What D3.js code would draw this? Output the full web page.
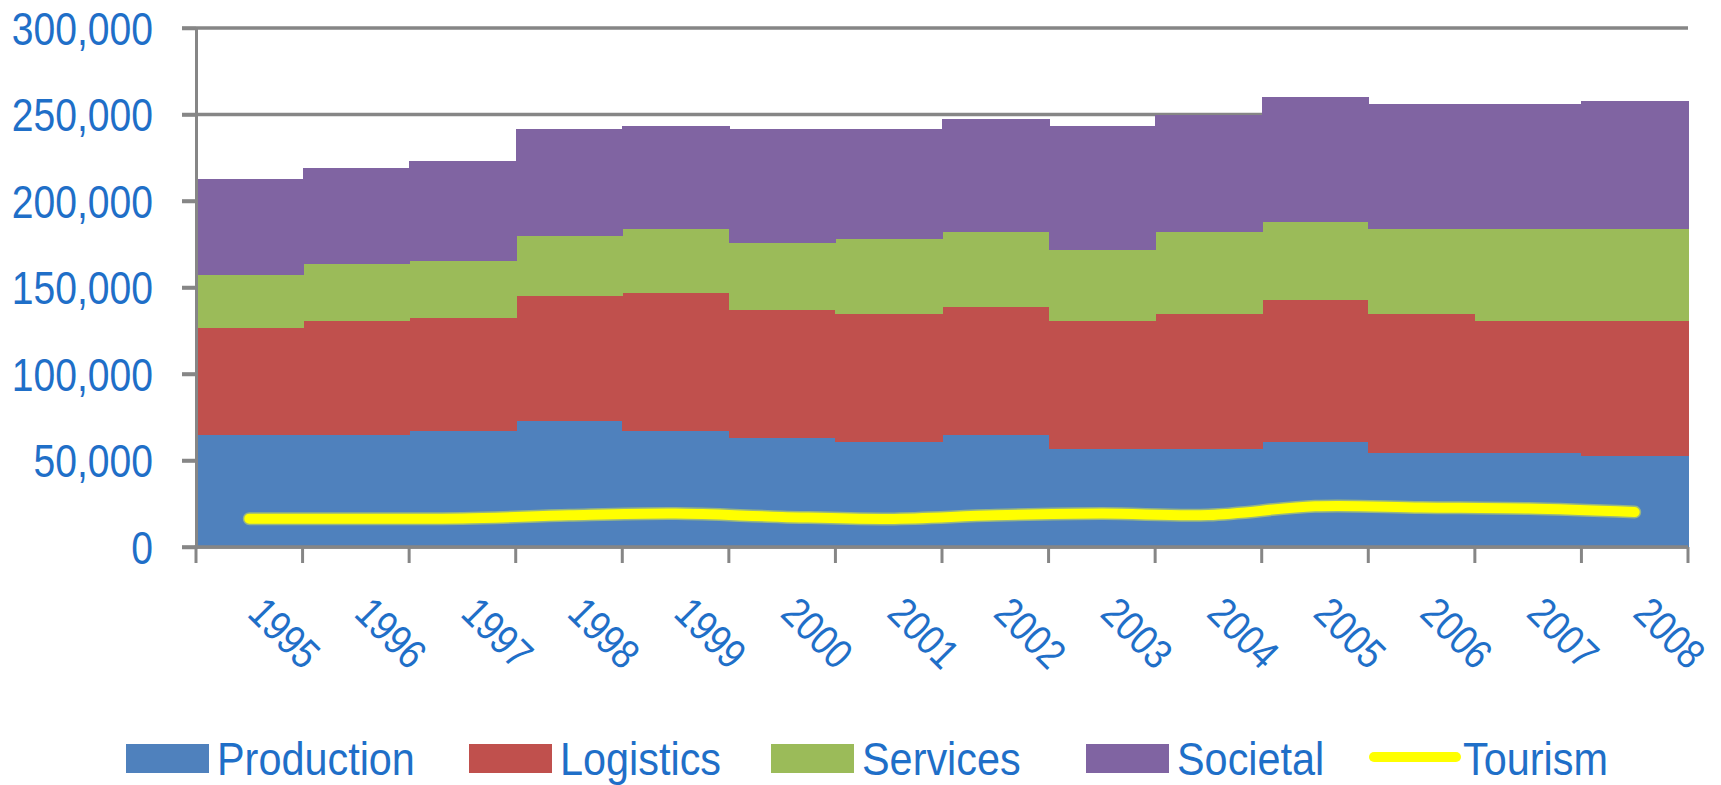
<!DOCTYPE html>
<html>
<head>
<meta charset="utf-8">
<script src="https://cdn.jsdelivr.net/npm/d3@7"></script>
<style>
  html, body { margin: 0; padding: 0; background: #fff; }
  svg { display: block; }
</style>
</head>
<body>
<div id="chart"></div>
<script>
// Data
const years = ['1995', '1996', '1997', '1998', '1999', '2000', '2001', '2002', '2003', '2004', '2005', '2006', '2007', '2008'];
const production = [64600, 64600, 66900, 72700, 66900, 63000, 60700, 64600, 56500, 56500, 60500, 54200, 54200, 52600];
const logistics  = [61900, 65900, 65400, 72300, 79800, 73900, 73900, 74000, 74000, 78100, 82200, 80400, 76300, 77900];
const services   = [30600, 33000, 32900, 34700, 37000, 38700, 43400, 43400, 41100, 47400, 45100, 49100, 53200, 53200];
const societal   = [55600, 55500, 57900, 61900, 59600, 66000, 63600, 65400, 71700, 67700, 72300, 72300, 72300, 74000];
const tourism    = [16400, 16400, 16500, 18300, 19300, 17400, 16200, 18300, 19300, 18500, 23500, 22800, 22200, 20200];
const yTicks = [0, 50000, 100000, 150000, 200000, 250000, 300000];

const seriesNames = ['Production', 'Logistics', 'Services', 'Societal'];
const colors = {
    Production: '#4F81BD',
    Logistics: '#C0504D',
    Services: '#9BBB59',
    Societal: '#8064A2',
    Tourism: '#FFFF00'
};
const textColor = '#1f6fc8';
const axisColor = '#868686';
const font = '"Liberation Sans", Arial, sans-serif';

const W = 1721, H = 785;
const plot = { left: 196, right: 1688, top: 28, bottom: 547 };

const svg = d3.select('#chart')
    .append('svg')
    .attr('width', W)
    .attr('height', H);

// build table for stacking
const table = years.map((y, i) => ({
    year: y,
    Production: production[i],
    Logistics: logistics[i],
    Services: services[i],
    Societal: societal[i]
}));

const x = d3.scaleBand()
    .domain(years)
    .range([plot.left, plot.right])
    .padding(0);

const y = d3.scaleLinear()
    .domain([0, 300000])
    .range([plot.bottom, plot.top]);

const stacked = d3.stack().keys(seriesNames)(table);

// gridlines (behind the areas)
svg.append('g')
    .selectAll('line')
    .data(yTicks)
    .join('line')
    .attr('x1', plot.left - 14)
    .attr('x2', plot.right)
    .attr('y1', d => y(d))
    .attr('y2', d => y(d))
    .attr('stroke', axisColor)
    .attr('stroke-width', 3.5);

// stacked columns with no gap
svg.append('g')
    .attr('shape-rendering', 'crispEdges')
    .selectAll('g')
    .data(stacked)
    .join('g')
    .attr('fill', d => colors[d.key])
    .selectAll('rect')
    .data(d => d)
    .join('rect')
    .attr('x', d => Math.round(x(d.data.year)))
    .attr('width', d => Math.round(x(d.data.year) + x.bandwidth()) - Math.round(x(d.data.year)) + 1)
    .attr('y', d => y(d[1]))
    .attr('height', d => y(d[0]) - y(d[1]));

// tourism line, smoothed
const line = d3.line()
    .x((d, i) => x(years[i]) + x.bandwidth() / 2)
    .y(d => y(d))
    .curve(d3.curveCatmullRom.alpha(0.5));

svg.append('path')
    .datum(tourism)
    .attr('d', line)
    .attr('fill', 'none')
    .attr('stroke', '#c8d85a')
    .attr('stroke-opacity', 0.6)
    .attr('stroke-width', 13)
    .attr('stroke-linecap', 'round');

svg.append('path')
    .datum(tourism)
    .attr('d', line)
    .attr('fill', 'none')
    .attr('stroke', colors.Tourism)
    .attr('stroke-width', 10)
    .attr('stroke-linecap', 'round');

// y axis
const yAxis = svg.append('g')
    .attr('transform', `translate(${plot.left},0)`)
    .call(d3.axisLeft(y).tickValues(yTicks).tickSize(14).tickFormat(d3.format(',')));

yAxis.select('.domain')
    .attr('stroke', axisColor)
    .attr('stroke-width', 3);
yAxis.selectAll('.tick line')
    .attr('stroke', axisColor)
    .attr('stroke-width', 3.5);
yAxis.selectAll('.tick text')
    .attr('x', null)
    .attr('dy', null)
    .attr('y', 16)
    .attr('transform', 'translate(-43,0) scale(0.85,1)')
    .attr('fill', textColor)
    .attr('font-family', font)
    .attr('font-size', 46)
    .attr('text-anchor', 'end');

// x axis line and ticks at band edges
const bounds = years.map(d => x(d)).concat([x.range()[1]]);
svg.append('line')
    .attr('x1', plot.left - 1.5)
    .attr('x2', plot.right)
    .attr('y1', plot.bottom)
    .attr('y2', plot.bottom)
    .attr('stroke', axisColor)
    .attr('stroke-width', 3.5);

svg.append('g')
    .selectAll('line')
    .data(bounds)
    .join('line')
    .attr('x1', d => d)
    .attr('x2', d => d)
    .attr('y1', plot.bottom)
    .attr('y2', plot.bottom + 16)
    .attr('stroke', axisColor)
    .attr('stroke-width', 3);

// rotated year labels
svg.append('g')
    .selectAll('text')
    .data(years)
    .join('text')
    .attr('transform', d => `translate(${x(d) + x.bandwidth() / 2 + 18},594) rotate(45) scale(0.85,1)`)
    .attr('y', 30)
    .attr('fill', textColor)
    .attr('font-family', font)
    .attr('font-size', 42)
    .text(d => d);

// legend
const legendItems = [
    { name: 'Production', x: 126 },
    { name: 'Logistics', x: 469 },
    { name: 'Services', x: 771 },
    { name: 'Societal', x: 1086 },
    { name: 'Tourism', x: 1372 }
];

const legend = svg.append('g');
legendItems.forEach(item => {
    if (item.name === 'Tourism') {
        legend.append('line')
            .attr('x1', item.x + 2)
            .attr('x2', item.x + 84)
            .attr('y1', 757)
            .attr('y2', 757)
            .attr('stroke', colors.Tourism)
            .attr('stroke-width', 10)
            .attr('stroke-linecap', 'round');
    } else {
        legend.append('rect')
            .attr('x', item.x)
            .attr('y', 744)
            .attr('width', 83)
            .attr('height', 29)
            .attr('fill', colors[item.name]);
    }
    legend.append('text')
        .attr('transform', `translate(${item.x + 91},775) scale(0.9,1)`)
        .attr('fill', textColor)
        .attr('font-family', font)
        .attr('font-size', 46)
        .text(item.name);
});
</script>
</body>
</html>
